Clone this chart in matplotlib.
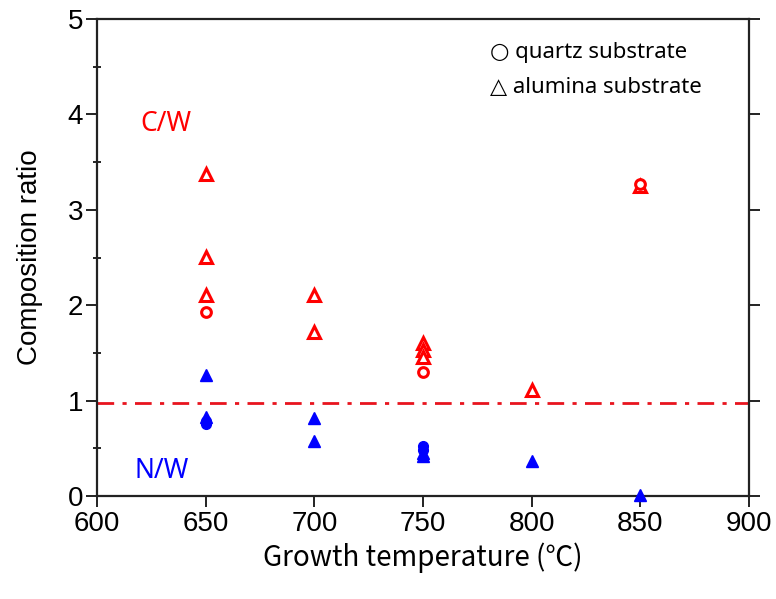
import matplotlib
matplotlib.use("Agg")
import matplotlib.pyplot as plt
from matplotlib.ticker import MultipleLocator

# C/W (red, open) data
cw_quartz_T = [650, 750, 850]
cw_quartz_v = [1.93, 1.30, 3.27]
cw_alumina_T = [650, 650, 650, 700, 700, 750, 750, 750, 800, 850]
cw_alumina_v = [3.38, 2.51, 2.11, 2.11, 1.72, 1.60, 1.53, 1.46, 1.11, 3.25]

# N/W (blue, filled) data
nw_quartz_T = [650, 650, 750, 750]
nw_quartz_v = [0.79, 0.75, 0.52, 0.48]
nw_alumina_T = [650, 650, 700, 700, 750, 750, 800, 850]
nw_alumina_v = [1.27, 0.83, 0.82, 0.58, 0.45, 0.42, 0.37, 0.01]

ref_level = 0.98
x_ticks = [600, 650, 700, 750, 800, 850, 900]
y_ticks = [0, 1, 2, 3, 4, 5]

plt.rcParams['font.family'] = ['Liberation Sans', 'DejaVu Sans']

fig = plt.figure(figsize=(7.76, 5.99), dpi=100)
ax = fig.add_axes([97/776, 1 - 496/599, (749 - 97)/776, (496 - 19)/599])

ax.axhline(ref_level, color='#e8141e', lw=2.0, linestyle=(0, (6, 3, 1.5, 3)), zorder=1)

ms = 8
ax.plot(cw_alumina_T, cw_alumina_v, linestyle='none', marker='^', ms=ms,
        mfc='white', mec='red', mew=2.2, zorder=3)
ax.plot(cw_quartz_T, cw_quartz_v, linestyle='none', marker='o', ms=7,
        mfc='white', mec='red', mew=2.2, zorder=3)
ax.plot(nw_alumina_T, nw_alumina_v, linestyle='none', marker='^', ms=ms,
        mfc='blue', mec='blue', mew=1.0, zorder=3, clip_on=False)
ax.plot(nw_quartz_T, nw_quartz_v, linestyle='none', marker='o', ms=7,
        mfc='blue', mec='blue', mew=1.0, zorder=3)

ax.set_xlim(600, 900)
ax.set_ylim(0, 5)
ax.set_xticks(x_ticks)
ax.set_yticks(y_ticks)
ax.yaxis.set_minor_locator(MultipleLocator(0.5))

for s in ax.spines.values():
    s.set_linewidth(1.6)
    s.set_color('#222222')

ax.tick_params(axis='both', which='major', direction='out', length=8, width=1.4,
               labelsize=20, colors='#222222', labelcolor='black')
ax.tick_params(axis='y', which='major', right=True, pad=2)
ax.tick_params(axis='y', which='minor', direction='inout', length=6, width=1.2,
               left=True, right=False)
ax.tick_params(axis='x', which='major', pad=3)

ax.set_ylabel('Composition ratio', fontsize=20, labelpad=18)
ax.set_xlabel('Growth temperature (℃)', fontsize=20, labelpad=4,
              family=['Noto Sans CJK JP', 'DejaVu Sans'])

ax.text(0.066, 0.765, 'C/W', transform=ax.transAxes, color='red', fontsize=19,
        family=['Noto Sans', 'DejaVu Sans'])
ax.text(0.058, 0.038, 'N/W', transform=ax.transAxes, color='blue', fontsize=19,
        family=['Noto Sans', 'DejaVu Sans'])

ax.text(0.603, 0.918, '○ quartz substrate', transform=ax.transAxes, fontsize=16,
        family=['Noto Sans', 'DejaVu Sans'])
ax.text(0.603, 0.845, '△ alumina substrate', transform=ax.transAxes, fontsize=16,
        family=['Noto Sans', 'DejaVu Sans'])

fig.savefig('out.png', dpi=100)
